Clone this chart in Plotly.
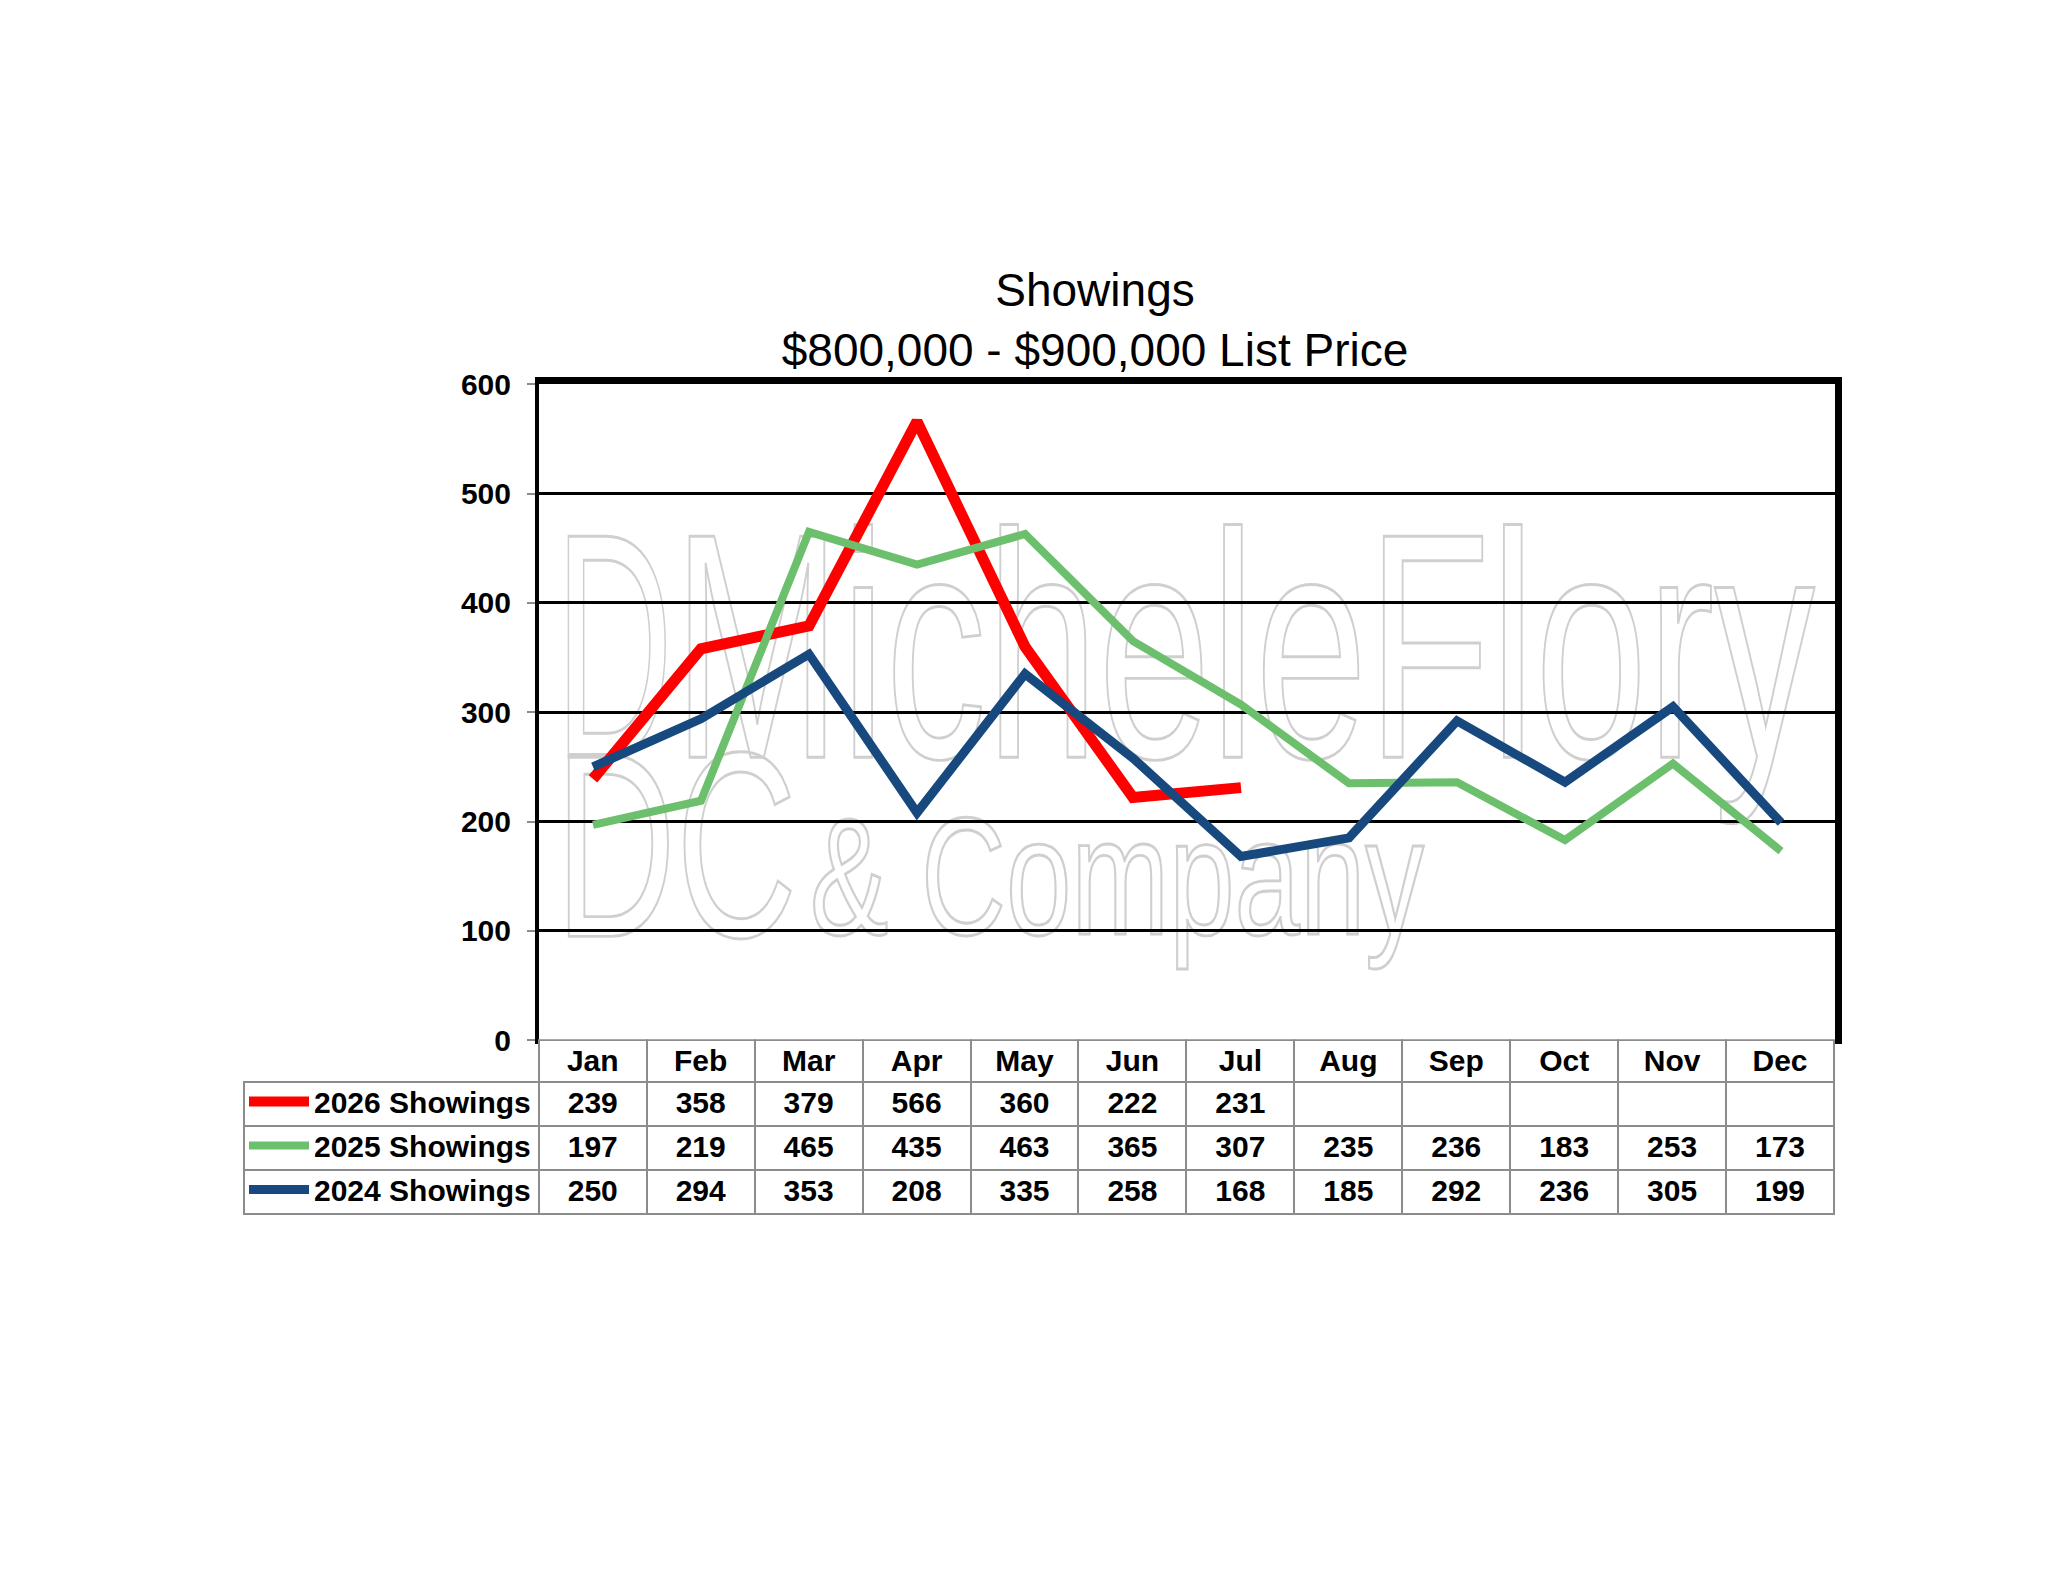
import base64
import plotly.graph_objects as go

months = ["Jan", "Feb", "Mar", "Apr", "May", "Jun",
          "Jul", "Aug", "Sep", "Oct", "Nov", "Dec"]

showings_2026 = [239, 358, 379, 566, 360, 222, 231]
showings_2025 = [197, 219, 465, 435, 463, 365, 307, 235, 236, 183, 253, 173]
showings_2024 = [250, 294, 353, 208, 335, 258, 168, 185, 292, 236, 305, 199]

series_names = ["2026 Showings", "2025 Showings", "2024 Showings"]
series_colors = ["#FF0000", "#6CBF6C", "#17497F"]
series_widths = [11, 8, 9]
y_ticks = [0, 100, 200, 300, 400, 500, 600]

# the page has an 8px body margin, so the figure is 16px smaller than the window
OFF = 8
W, H = 2048 - 2 * OFF, 1583 - 2 * OFF
# pixel layout (figure coordinates)
plot_l, plot_r, plot_t, plot_b = 539 - OFF, 1835 - OFF, 376 - OFF, 1046 - OFF
tab_l, tab_b = 244 - OFF, 1232 - OFF
legend_t = 1082 - OFF

FONT = "Liberation Sans, Arial, sans-serif"

series = [showings_2026, showings_2025, showings_2024]

fig = go.Figure()
for name, vals, color, width in zip(series_names, series, series_colors, series_widths):
    fig.add_trace(go.Scatter(
        x=months[:len(vals)], y=vals, name=name, mode="lines",
        line=dict(color=color, width=width),
        legendgroup=name, xaxis="x", yaxis="y",
    ))

# data table under the chart (series labels come from the legend)
def cell(v):
    return "" if v is None else str(v)

cols = [["", "", ""]]
for i in range(len(months)):
    cols.append([cell(s[i]) if i < len(s) else "" for s in series])

fig.add_trace(go.Table(
    domain=dict(x=[tab_l / W, plot_r / W], y=[1 - tab_b / H, 1 - plot_b / H]),
    columnwidth=[plot_l - tab_l] + [(plot_r - plot_l) / 12] * 12,
    header=dict(
        values=[""] + months,
        height=42,
        fill=dict(color=["rgba(0,0,0,0)"] + ["white"] * 12),
        line=dict(color="#8C8C8C", width=[0] + [2] * 12),
        align="center",
        font=dict(family=FONT, size=30, color="black", weight="bold"),
    ),
    cells=dict(
        values=cols,
        height=44,
        fill=dict(color="white"),
        line=dict(color="#8C8C8C", width=2),
        align="center",
        font=dict(family=FONT, size=30, color="black", weight="bold"),
    ),
))

# faint watermark behind the plot area
pw, ph = plot_r - plot_l, plot_b - plot_t
svg = f"""<svg xmlns='http://www.w3.org/2000/svg' width='{pw}' height='{ph}' viewBox='0 0 {pw} {ph}'>
<g fill='none' stroke='#CFCFCF' stroke-width='3' font-family='Liberation Sans Narrow, Liberation Sans, Arial'>
<text x='16' y='381' font-size='328' textLength='118' lengthAdjust='spacingAndGlyphs'>D</text>
<text x='134' y='381' font-size='328' textLength='1142' lengthAdjust='spacingAndGlyphs'>MicheleFlory</text>
<text x='16' y='564' font-size='270' textLength='242' lengthAdjust='spacingAndGlyphs'>DC</text>
<text x='271' y='562' font-size='170' textLength='614' lengthAdjust='spacingAndGlyphs'>&amp; Company</text>
</g></svg>"""
svg_uri = "data:image/svg+xml;base64," + base64.b64encode(svg.encode()).decode()

fig.update_layout(
    width=W, height=H,
    margin=dict(l=0, r=0, t=0, b=0),
    paper_bgcolor="white",
    plot_bgcolor="rgba(0,0,0,0)",
    font=dict(family=FONT, color="black"),
    title=dict(
        text="Showings<br>$800,000 - $900,000 List Price",
        x=(1095 - OFF) / W, xanchor="center",
        y=1 - (306 - OFF) / H, yanchor="middle",
        font=dict(family=FONT, size=46, color="black"),
    ),
    showlegend=True,
    legend=dict(
        x=tab_l / W, xanchor="left",
        y=1 - legend_t / H, yanchor="top",
        orientation="v", traceorder="grouped", tracegroupgap=2,
        bgcolor="rgba(0,0,0,0)", borderwidth=0,
        itemwidth=60,
        font=dict(family=FONT, size=30, color="black", weight="bold"),
    ),
    xaxis=dict(
        domain=[plot_l / W, plot_r / W],
        type="category", range=[-0.5, 11.5],
        showticklabels=False, showgrid=False, ticks="",
        showline=True, linecolor="black", linewidth=4,
        zeroline=False,
    ),
    xaxis2=dict(
        overlaying="x", side="top", matches="x",
        showticklabels=False, showgrid=False, ticks="",
        showline=True, linecolor="black", linewidth=7,
    ),
    yaxis=dict(
        domain=[1 - plot_b / H, 1 - plot_t / H],
        range=[0, 600], tickvals=y_ticks,
        showgrid=True, gridcolor="black", gridwidth=2.5,
        ticks="outside", ticklen=8, tickcolor="#8C8C8C", tickwidth=2,
        ticklabelstandoff=10,
        tickfont=dict(family=FONT, size=30, color="black", weight="bold"),
        showline=True, linecolor="black", linewidth=4,
        zeroline=False,
    ),
    yaxis2=dict(
        overlaying="y", side="right", matches="y",
        showticklabels=False, showgrid=False, ticks="",
        showline=True, linecolor="black", linewidth=7,
    ),
    images=[dict(
        source=svg_uri, xref="paper", yref="paper",
        x=plot_l / W, y=1 - plot_t / H, sizex=pw / W, sizey=ph / H,
        xanchor="left", yanchor="top", sizing="stretch", layer="below",
    )],
)

# invisible helper trace so the top/right border axes are drawn
fig.add_trace(go.Scatter(x=[months[0]], y=[y_ticks[0]], xaxis="x2", yaxis="y2",
                         mode="markers", marker=dict(opacity=0),
                         showlegend=False, hoverinfo="skip"))

fig.write_html("out.html")
